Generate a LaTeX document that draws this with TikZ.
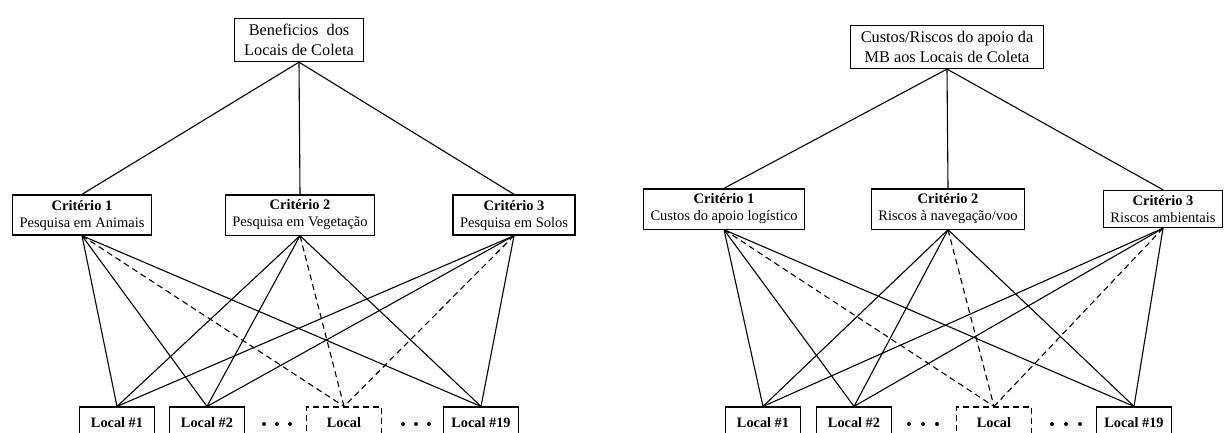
\documentclass[tikz,border=0pt]{standalone}
\usepackage{fontspec}
\setmainfont{Liberation Serif}
\usetikzlibrary{calc}

\tikzset{
  topbox/.style={draw, line width=1.2pt, align=center, inner xsep=10pt, inner ysep=6pt,
    font=\fontsize{16.3}{19.5}\selectfont},
  critbox/.style={draw, line width=1.2pt, align=center, inner xsep=7pt, inner ysep=5pt,
    font=\fontsize{14.5}{17}\selectfont},
  localbox/.style={draw, line width=1.2pt, minimum width=75pt, minimum height=32pt,
    inner sep=0pt, font=\fontsize{14.3}{17}\selectfont\bfseries},
  link/.style={line width=1.1pt},
  dlink/.style={line width=1.1pt, dash pattern=on 6pt off 4pt}
}

\begin{document}
\begin{tikzpicture}[x=1pt, y=-1pt]
  \useasboundingbox (0,0) rectangle (1225,432);

  % Coordinates
  \coordinate (A) at (299, 40);
  \coordinate (C1) at (82, 215);
  \coordinate (C2) at (300, 215);
  \coordinate (C3) at (514, 215);
  \coordinate (L1) at (117, 423);
  \coordinate (L2) at (207, 423);
  \coordinate (L) at (344, 423);
  \coordinate (L19) at (481, 423);

  \coordinate (B) at (947, 47);
  \coordinate (D1) at (724, 209);
  \coordinate (D2) at (948, 209);
  \coordinate (D3) at (1163, 209);
  \coordinate (M1) at (763, 423);
  \coordinate (M2) at (854, 423);
  \coordinate (M) at (994, 423);
  \coordinate (M19) at (1134, 423);

  % Left hierarchy
  \node[topbox] (a) at (A) {Beneficios\ \ dos\\Locais de Coleta};
  \node[critbox] (c1) at (C1) {\textbf{Critério 1}\\Pesquisa em Animais};
  \node[critbox] (c2) at (C2) {\textbf{Critério 2}\\Pesquisa em Vegetação};
  \node[critbox] (c3) at (C3) {\textbf{Critério 3}\\Pesquisa em Solos};
  \node[localbox] (l1) at (L1) {Local \#1};
  \node[localbox] (l2) at (L2) {Local \#2};
  \node[localbox, dash pattern=on 6pt off 4pt] (l) at (L) {Local};
  \node[localbox] (l19) at (L19) {Local \#19};

  % Right hierarchy
  \node[topbox] (b) at (B) {Custos/Riscos do apoio da\\MB aos Locais de Coleta};
  \node[critbox] (d1) at (D1) {\textbf{Critério 1}\\Custos do apoio logístico};
  \node[critbox] (d2) at (D2) {\textbf{Critério 2}\\Riscos à navegação/voo};
  \node[critbox] (d3) at (D3) {\textbf{Critério 3}\\Riscos ambientais};
  \node[localbox] (m1) at (M1) {Local \#1};
  \node[localbox] (m2) at (M2) {Local \#2};
  \node[localbox, dash pattern=on 6pt off 4pt] (m) at (M) {Local};
  \node[localbox] (m19) at (M19) {Local \#19};

  % Drawing
  \draw[link] (a.south) -- (c1.north);
  \draw[link] (a.south) -- (c2.north);
  \draw[link] (a.south) -- (c3.north);
  \draw[link] (c1.south) -- (l1.north);
  \draw[link] (c1.south) -- (l2.north);
  \draw[dlink] (c1.south) -- (l.north);
  \draw[link] (c1.south) -- (l19.north);
  \draw[link] (c2.south) -- (l1.north);
  \draw[link] (c2.south) -- (l2.north);
  \draw[dlink] (c2.south) -- (l.north);
  \draw[link] (c2.south) -- (l19.north);
  \draw[link] (c3.south) -- (l1.north);
  \draw[link] (c3.south) -- (l2.north);
  \draw[dlink] (c3.south) -- (l.north);
  \draw[link] (c3.south) -- (l19.north);

  \draw[link] (b.south) -- (d1.north);
  \draw[link] (b.south) -- (d2.north);
  \draw[link] (b.south) -- (d3.north);
  \draw[link] (d1.south) -- (m1.north);
  \draw[link] (d1.south) -- (m2.north);
  \draw[dlink] (d1.south) -- (m.north);
  \draw[link] (d1.south) -- (m19.north);
  \draw[link] (d2.south) -- (m1.north);
  \draw[link] (d2.south) -- (m2.north);
  \draw[dlink] (d2.south) -- (m.north);
  \draw[link] (d2.south) -- (m19.north);
  \draw[link] (d3.south) -- (m1.north);
  \draw[link] (d3.south) -- (m2.north);
  \draw[dlink] (d3.south) -- (m.north);
  \draw[link] (d3.south) -- (m19.north);

  \fill[black] (264, 424) circle (2pt);
  \fill[black] (277, 424) circle (2pt);
  \fill[black] (290, 424) circle (2pt);
  \fill[black] (403, 424) circle (2pt);
  \fill[black] (416, 424) circle (2pt);
  \fill[black] (429, 424) circle (2pt);
  \fill[black] (909, 424) circle (2pt);
  \fill[black] (923, 424) circle (2pt);
  \fill[black] (937, 424) circle (2pt);
  \fill[black] (1052, 424) circle (2pt);
  \fill[black] (1066, 424) circle (2pt);
  \fill[black] (1080, 424) circle (2pt);
\end{tikzpicture}
\end{document}
